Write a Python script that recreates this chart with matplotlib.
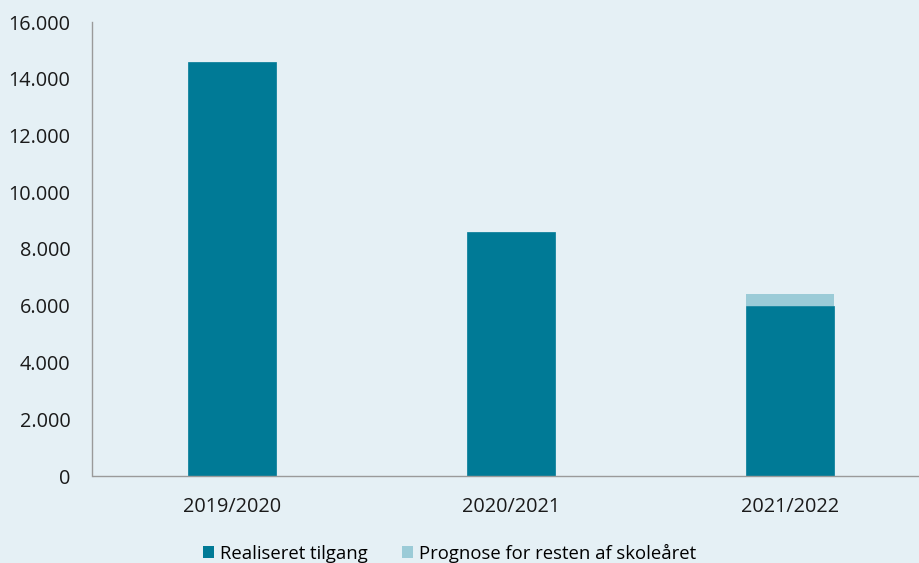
import matplotlib
matplotlib.use("Agg")
import matplotlib.pyplot as plt
from matplotlib.patches import Patch
from matplotlib.ticker import FuncFormatter

categories = ["2019/2020", "2020/2021", "2021/2022"]
realiseret = [14600, 8600, 6000]
prognose = [0, 0, 410]
series_names = ["Realiseret tilgang", "Prognose for resten af skoleåret"]

dark = "#007A96"
light = "#9BCBD7"
bg = "#E5F0F5"

plt.rcParams['font.family'] = ['Open Sans', 'DejaVu Sans']

fig = plt.figure(figsize=(9.2, 5.63), dpi=100, facecolor=bg)
ax = fig.add_axes([92.5/920, 87/563, (920-92.5)/920, 454/563])
ax.set_facecolor(bg)

x = list(range(len(categories)))
w = 0.312
ax.bar(x, realiseret, width=w, color=dark, edgecolor=dark, linewidth=0.5)
ax.bar(x, prognose, width=w, bottom=realiseret, color=light, linewidth=0)

ax.set_xlim(-0.5, 2.466)
ax.set_ylim(0, 16000)
ax.set_yticks(range(0, 16001, 2000))
ax.yaxis.set_major_formatter(FuncFormatter(lambda v, p: f"{int(v):,}".replace(",", ".")))
ax.set_xticks(x)
ax.set_xticklabels(categories)
ax.tick_params(axis='both', length=0, labelsize=14.3, colors='#1a1a1a')
ax.tick_params(axis='y', pad=16)
ax.tick_params(axis='x', pad=15)
for s in ['top', 'right']:
    ax.spines[s].set_visible(False)
for s in ['left', 'bottom']:
    ax.spines[s].set_color('#9a9a9a')
    ax.spines[s].set_linewidth(1.0)

handles = [Patch(facecolor=dark, edgecolor='none'), Patch(facecolor=light, edgecolor='none')]
fig.legend(handles, series_names, loc='center left', bbox_to_anchor=(203/920, 1 - 553/563),
           ncol=2, frameon=False, fontsize=13.3, handlelength=0.62, handleheight=0.62,
           handletextpad=0.3, columnspacing=1.85, borderpad=0, borderaxespad=0)

fig.savefig("out.png", dpi=100, facecolor=bg)
